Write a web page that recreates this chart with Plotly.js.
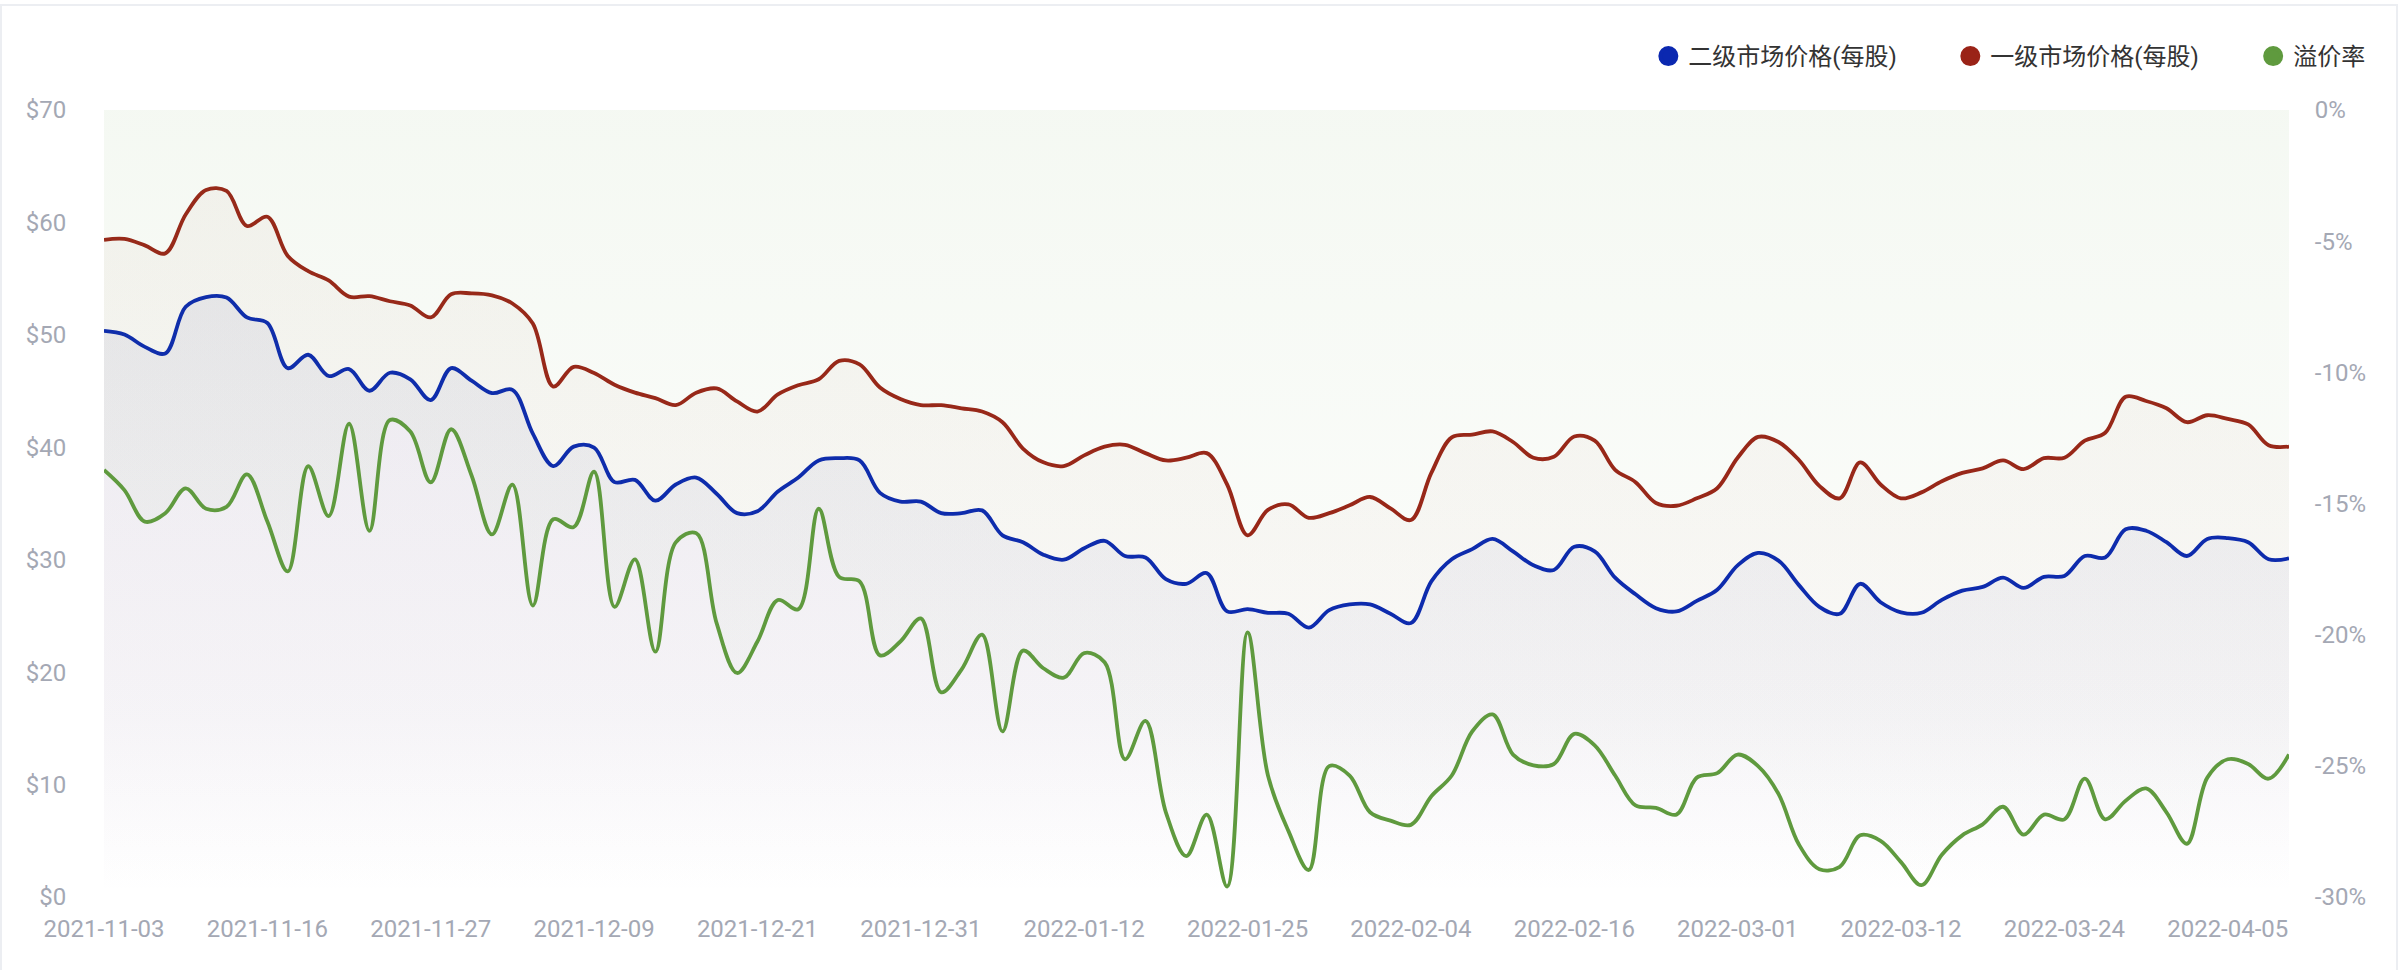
<!DOCTYPE html>
<html>
<head>
<meta charset="utf-8">
<script src="https://cdn.plot.ly/plotly-3.0.1.min.js"></script>
<style>
  html, body { margin: 0; padding: 0; background: #ffffff; }
  #card { position: absolute; left: 0; top: 4px; width: 2398px; height: 980px; box-sizing: border-box;
          border: 2px solid #eceef2; border-bottom: none; }
  #chart { position: absolute; left: 0; top: 0; width: 2398px; height: 970px; }
</style>
</head>
<body>
<div id="card"></div>
<div id="chart"></div>
<script>
// Trading dates (category axis)
const dates = [
  "2021-11-03","2021-11-04","2021-11-05","2021-11-08","2021-11-09","2021-11-10","2021-11-11","2021-11-12",
  "2021-11-16","2021-11-17","2021-11-18","2021-11-19","2021-11-22","2021-11-23","2021-11-24","2021-11-26",
  "2021-11-27","2021-11-29","2021-11-30","2021-12-01","2021-12-02","2021-12-03","2021-12-06","2021-12-07",
  "2021-12-09","2021-12-10","2021-12-13","2021-12-14","2021-12-15","2021-12-16","2021-12-17","2021-12-20",
  "2021-12-21","2021-12-22","2021-12-23","2021-12-24","2021-12-27","2021-12-28","2021-12-29","2021-12-30",
  "2021-12-31","2022-01-03","2022-01-04","2022-01-05","2022-01-06","2022-01-07","2022-01-10","2022-01-11",
  "2022-01-12","2022-01-13","2022-01-14","2022-01-18","2022-01-19","2022-01-20","2022-01-21","2022-01-24",
  "2022-01-25","2022-01-26","2022-01-27","2022-01-28","2022-01-31","2022-02-01","2022-02-02","2022-02-03",
  "2022-02-04","2022-02-07","2022-02-08","2022-02-09","2022-02-10","2022-02-11","2022-02-14","2022-02-15",
  "2022-02-16","2022-02-17","2022-02-18","2022-02-22","2022-02-23","2022-02-24","2022-02-25","2022-02-28",
  "2022-03-01","2022-03-02","2022-03-03","2022-03-04","2022-03-07","2022-03-08","2022-03-09","2022-03-10",
  "2022-03-12","2022-03-14","2022-03-15","2022-03-16","2022-03-17","2022-03-18","2022-03-21","2022-03-22",
  "2022-03-24","2022-03-25","2022-03-28","2022-03-29","2022-03-30","2022-03-31","2022-04-01","2022-04-04",
  "2022-04-05","2022-04-06","2022-04-07","2022-04-08"
];

// Tick labels shown on the x axis
const tickDates = [
  "2021-11-03","2021-11-16","2021-11-27","2021-12-09","2021-12-21","2021-12-31","2022-01-12",
  "2022-01-25","2022-02-04","2022-02-16","2022-03-01","2022-03-12","2022-03-24","2022-04-05"
];

// 二级市场价格(每股) — secondary market price per share ($)
const secondaryPrice = [
  50.36,50.03,48.93,48.35,52.50,53.36,53.32,51.55,51.06,47.04,48.23,46.34,46.96,45.03,46.63,46.05,
  44.20,47.04,45.93,44.82,45.11,41.21,38.33,40.06,39.98,36.90,37.10,35.25,36.69,37.31,35.87,34.14,
  34.31,36.07,37.31,38.83,39.03,38.83,35.95,35.17,35.17,34.14,34.14,34.39,32.17,31.56,30.45,30.00,
  31.02,31.68,30.33,30.20,28.27,27.86,28.81,25.40,25.60,25.28,25.19,23.96,25.52,26.02,26.02,25.19,
  24.37,28.07,30.04,30.94,31.85,30.74,29.50,29.09,31.15,30.74,28.40,26.92,25.69,25.40,26.34,27.33,
  29.50,30.61,29.92,27.74,25.81,25.19,27.86,26.22,25.32,25.28,26.43,27.25,27.58,28.40,27.49,28.48,
  28.56,30.33,30.20,32.71,32.58,31.56,30.33,31.85,31.93,31.56,30.04,30.12
];

// 一级市场价格(每股) — primary market price per share ($)
const primaryPrice = [
  58.45,58.53,57.96,57.25,60.71,62.89,62.80,59.68,60.51,57.02,55.66,54.84,53.40,53.44,52.99,52.62,
  51.55,53.61,53.69,53.52,52.79,51.00,45.40,47.16,46.60,45.56,44.86,44.37,43.75,44.86,45.23,44.08,
  43.18,44.70,45.52,46.05,47.69,47.37,45.31,44.29,43.75,43.75,43.47,43.18,42.23,39.89,38.66,38.33,
  39.28,40.06,40.22,39.48,38.83,39.07,39.48,36.69,32.17,34.43,34.92,33.73,34.14,34.84,35.58,34.56,
  33.53,37.72,40.88,41.12,41.41,40.47,39.07,39.15,40.96,40.59,38.00,36.90,35.05,34.80,35.46,36.36,
  39.07,40.92,40.47,38.87,36.57,35.46,38.66,36.69,35.46,35.99,36.98,37.72,38.13,38.83,38.05,39.03,
  39.07,40.59,41.29,44.49,44.12,43.47,42.23,42.85,42.52,42.03,40.18,40.06
];

// 溢价率 — premium rate (%)
const premiumRate = [
  -13.72,-14.49,-15.69,-15.37,-14.42,-15.20,-15.13,-13.89,-15.69,-17.59,-13.58,-15.48,-11.96,-16.04,-11.82,-12.26,
  -14.19,-12.17,-13.93,-16.18,-14.28,-18.89,-15.60,-15.90,-13.79,-18.94,-17.13,-20.65,-16.48,-16.13,-19.56,-21.46,
  -20.26,-18.68,-19.03,-15.20,-17.80,-17.97,-20.79,-20.26,-19.38,-22.20,-21.32,-20.00,-23.69,-20.61,-21.28,-21.64,
  -20.70,-21.05,-24.75,-23.29,-26.77,-28.44,-26.86,-29.60,-19.91,-25.37,-27.48,-28.97,-25.01,-25.37,-26.77,-27.09,
  -27.25,-26.16,-25.37,-23.69,-23.04,-24.57,-24.98,-24.93,-23.78,-24.22,-25.37,-26.51,-26.60,-26.86,-25.45,-25.28,
  -24.57,-25.01,-26.07,-28.00,-28.94,-28.85,-27.65,-27.86,-28.67,-29.55,-28.39,-27.65,-27.23,-26.56,-27.62,-26.86,
  -27.04,-25.49,-27.04,-26.33,-25.86,-26.77,-27.97,-25.45,-24.75,-24.93,-25.49,-24.57
];

const seriesNames = ["二级市场价格(每股)", "一级市场价格(每股)", "溢价率"];
const priceTicks = [0, 10, 20, 30, 40, 50, 60, 70];
const pctTicks = [0, -5, -10, -15, -20, -25, -30];

const BLUE = "#0b28b0", RED = "#9a2317", GREEN = "#5f9a3e";
const FONT = "Roboto, 'Noto Sans CJK SC', sans-serif";
const tickFont = { family: FONT, size: 24, color: "#a4a8b4" };
const LW = 3.8;

const traces = [
  {
    x: dates, y: premiumRate, yaxis: "y2", type: "scatter", mode: "lines",
    line: { color: GREEN, width: LW, shape: "spline", smoothing: 1 },
    fill: "tozeroy",
    fillgradient: { type: "vertical", start: -30, stop: 0,
      colorscale: [[0, "rgba(95,155,63,0)"], [0.5, "rgba(95,155,63,0.035)"], [1, "rgba(95,155,63,0.065)"]] },
    showlegend: false, hoverinfo: "skip"
  },
  {
    x: dates, y: primaryPrice, type: "scatter", mode: "lines",
    line: { color: RED, width: LW, shape: "spline", smoothing: 1 },
    fill: "tozeroy",
    fillgradient: { type: "vertical", start: 0, stop: 63,
      colorscale: [[0, "rgba(150,70,50,0)"], [0.3, "rgba(150,70,50,0.025)"], [1, "rgba(150,70,50,0.045)"]] },
    showlegend: false, hoverinfo: "skip"
  },
  {
    x: dates, y: secondaryPrice, type: "scatter", mode: "lines",
    line: { color: BLUE, width: LW, shape: "spline", smoothing: 1 },
    fill: "tozeroy",
    fillgradient: { type: "vertical", start: 0, stop: 54,
      colorscale: [[0, "rgba(70,70,160,0)"], [0.3, "rgba(70,70,160,0.04)"], [1, "rgba(70,70,160,0.08)"]] },
    showlegend: false, hoverinfo: "skip"
  }
];

// Legend entries (circle markers), one legend box per entry
const legendIds = ["legend", "legend2", "legend3"];
[BLUE, RED, GREEN].forEach(function (c, i) {
  traces.push({
    x: [dates[0]], y: [null], type: "scatter", mode: "markers", name: seriesNames[i],
    marker: { color: c, size: 16, symbol: "circle", line: { color: c, width: 4 } },
    showlegend: true, hoverinfo: "skip", yaxis: i === 2 ? "y2" : "y", legend: legendIds[i]
  });
});

function legendBox(xFrac) {
  return {
    orientation: "h", x: xFrac, xanchor: "left", y: 1.068, yanchor: "middle",
    font: { family: FONT, size: 24, color: "#333333" },
    bgcolor: "rgba(0,0,0,0)", borderwidth: 0, itemclick: false, itemdoubleclick: false
  };
}

const layout = {
  width: 2398, height: 970,
  margin: { l: 104, r: 109, t: 110, b: 73, pad: 0 },
  paper_bgcolor: "rgba(0,0,0,0)", plot_bgcolor: "rgba(0,0,0,0)",
  font: { family: FONT },
  showlegend: true,
  legend: legendBox(0.7068),
  legend2: legendBox(0.8450),
  legend3: legendBox(0.9836),
  xaxis: {
    type: "category", range: [0, dates.length - 1],
    tickmode: "array", tickvals: tickDates, ticktext: tickDates,
    showgrid: false, zeroline: false, showline: false,
    ticks: "outside", ticklen: 10, tickcolor: "rgba(0,0,0,0)",
    tickfont: tickFont, fixedrange: true
  },
  yaxis: {
    range: [0, 70], tickmode: "array", tickvals: priceTicks,
    ticktext: priceTicks.map(function (v) { return "$" + v; }),
    showgrid: false, zeroline: false, showline: false,
    ticks: "outside", ticklen: 32, tickcolor: "rgba(0,0,0,0)",
    tickfont: tickFont, fixedrange: true
  },
  yaxis2: {
    overlaying: "y", side: "right", range: [-30, 0],
    tickmode: "array", tickvals: pctTicks,
    ticktext: pctTicks.map(function (v) { return v + "%"; }),
    showgrid: false, zeroline: false, showline: false,
    ticks: "outside", ticklen: 20, tickcolor: "rgba(0,0,0,0)",
    tickfont: tickFont, fixedrange: true
  },
  hovermode: false
};

Plotly.newPlot("chart", traces, layout, { staticPlot: true, displayModeBar: false });
</script>
</body>
</html>
